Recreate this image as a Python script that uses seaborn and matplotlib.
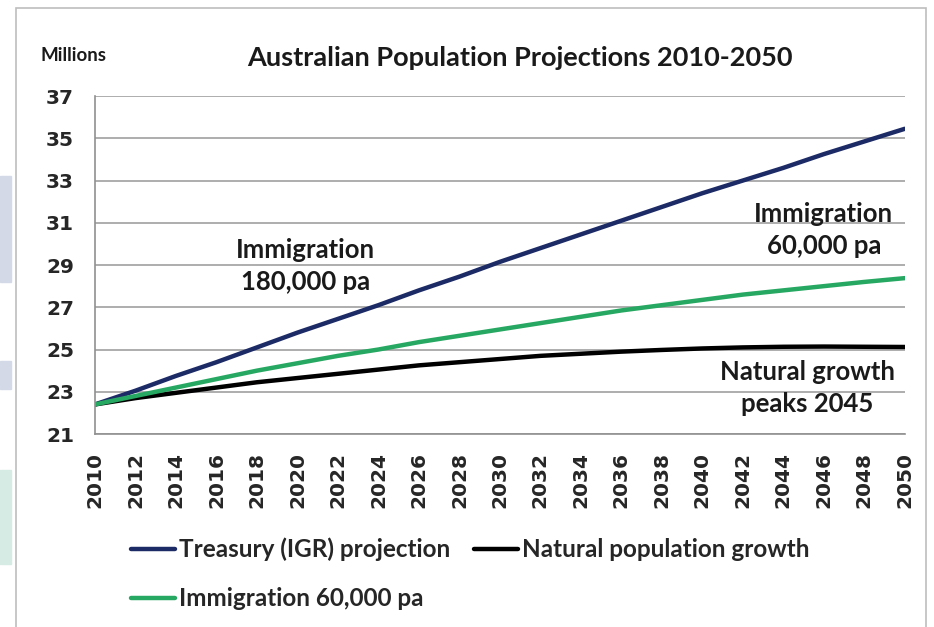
import matplotlib

matplotlib.use("Agg")
import matplotlib.pyplot as plt
import pandas as pd
import seaborn as sns
from matplotlib.patches import Rectangle

# Data (millions)
years = list(range(2010, 2051, 2))
treasury = [22.4, 23.05, 23.75, 24.4, 25.1, 25.8, 26.45, 27.1, 27.8, 28.45, 29.15,
            29.8, 30.45, 31.1, 31.75, 32.4, 33.0, 33.6, 34.25, 34.85, 35.45]
natural = [22.4, 22.7, 22.95, 23.2, 23.45, 23.65, 23.85, 24.05, 24.25, 24.4, 24.55,
           24.7, 24.8, 24.9, 24.98, 25.05, 25.1, 25.13, 25.14, 25.13, 25.12]
immig_60k = [22.4, 22.8, 23.2, 23.6, 24.0, 24.35, 24.7, 25.0, 25.35, 25.65, 25.95,
             26.25, 26.55, 26.85, 27.1, 27.35, 27.6, 27.8, 28.0, 28.2, 28.38]

series_names = ["Treasury (IGR) projection", "Natural population growth", "Immigration 60,000 pa"]
series_colors = ["#1c2a66", "#000000", "#27a862"]
y_ticks = list(range(21, 38, 2))

df = pd.concat(
    [
        pd.DataFrame({"year": years, "population": vals, "series": name})
        for name, vals in zip(series_names, [treasury, natural, immig_60k])
    ]
)

sns.set_theme(style="white")
plt.rcParams["font.family"] = ["Lato", "DejaVu Sans"]

fig = plt.figure(figsize=(9.34, 6.27), dpi=100)
ax = fig.add_axes([0.1017, 0.3078, 0.867, 0.539])

sns.lineplot(
    data=df, x="year", y="population", hue="series", hue_order=series_names,
    palette=dict(zip(series_names, series_colors)), linewidth=3.2, ax=ax, legend=False,
)

ax.set_xlim(2010, 2050)
ax.set_ylim(21, 37)
ax.set_yticks(y_ticks)
ax.set_xticks(years)
ax.set_xticks(range(2011, 2050, 2), minor=True)
ax.grid(axis="y", color="#a0a0a0", linewidth=1.2)
ax.set_axisbelow(True)
for side in ["top", "right"]:
    ax.spines[side].set_visible(False)
for side in ["left", "bottom"]:
    ax.spines[side].set_color("#909090")
    ax.spines[side].set_linewidth(1.2)
ax.tick_params(axis="both", which="both", direction="out", color="#909090", width=1.2)
ax.tick_params(axis="y", length=7, pad=8)
ax.tick_params(axis="x", which="both", length=7, pad=6)
ax.set_xlabel("")
ax.set_ylabel("")
for lbl in ax.get_yticklabels():
    lbl.set_fontfamily("DejaVu Sans")
    lbl.set_fontweight("bold")
    lbl.set_fontsize(14.5)
ax.set_xticklabels([str(y) for y in years], rotation=90, fontfamily="DejaVu Sans",
                   fontweight="bold", fontsize=14.5)

# Annotations
note_style = dict(ha="center", va="center", fontsize=18.5, fontweight="bold",
                  linespacing=1.4, color="#1a1a1a")
ax.text(2020.4, 28.95, "Immigration\n180,000 pa", **note_style)
ax.text(2046.0, 30.66, "Immigration\n60,000 pa", **note_style)
ax.text(2045.2, 23.18, "Natural growth\npeaks 2045", **note_style)

# Titles
fig.text(0.557, 0.908, "Australian Population Projections 2010-2050", ha="center",
         va="center", fontsize=19.5, fontweight="bold", color="#1a1a1a")
fig.text(0.043, 0.912, "Millions", ha="left", va="center", fontsize=13.5,
         fontweight="bold", color="#1a1a1a")

# Legend
handles = [plt.Line2D([], [], color=c, linewidth=3.2) for c in series_colors]
fig.legend(
    [handles[0], handles[2], handles[1]],
    [series_names[0], series_names[2], series_names[1]],
    ncol=2, loc="upper left", bbox_to_anchor=(0.117, 0.177), frameon=False,
    prop={"weight": "bold", "size": 17.5}, handlelength=1.8, handletextpad=0.15,
    columnspacing=1.0, labelspacing=1.05,
)

# Slide frame and background decoration
fig.patches.append(Rectangle((0, 0.55), 0.012, 0.17, transform=fig.transFigure,
                             color="#d3d9e6", zorder=0))
fig.patches.append(Rectangle((0, 0.38), 0.012, 0.045, transform=fig.transFigure,
                             color="#d3d9e6", zorder=0))
fig.patches.append(Rectangle((0, 0.1), 0.012, 0.15, transform=fig.transFigure,
                             color="#d5ebe3", zorder=0))
fig.patches.append(Rectangle((0.017, -0.01), 0.974, 0.998, transform=fig.transFigure,
                             fill=False, edgecolor="#bdbdbd", linewidth=1.2, zorder=1))

fig.savefig("out.png", dpi=100)
